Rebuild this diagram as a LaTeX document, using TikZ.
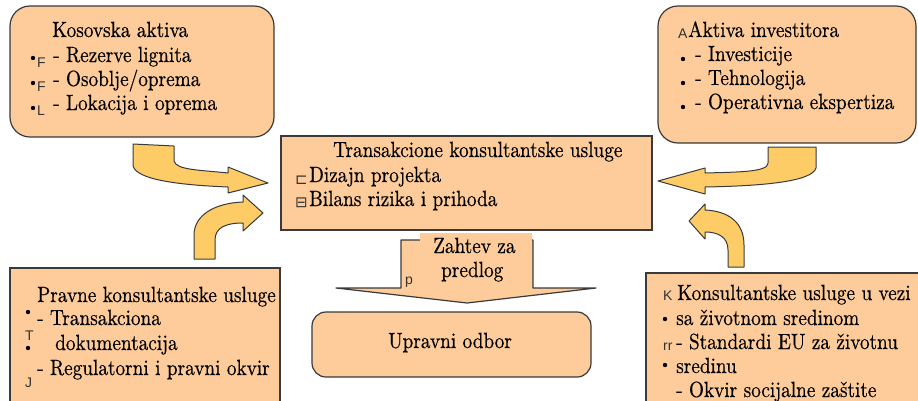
\documentclass[tikz,border=0pt]{standalone}
\usepackage{fontspec}
\setmainfont{lmroman10-regular.otf}[FakeStretch=0.875,FakeBold=0.4]
\setsansfont{Liberation Sans}
\newfontfamily\symfont{DejaVu Sans}
\definecolor{peach}{RGB}{253,204,154}
\definecolor{arrowfill}{RGB}{254,204,102}
\definecolor{boxline}{RGB}{58,58,58}
\tikzset{
  box/.style={draw=boxline,fill=peach,line width=1.2pt},
  bigarrow/.style={draw=boxline,fill=arrowfill,line width=1pt,line join=round},
  txt/.style={anchor=base west,inner sep=0pt,font=\fontsize{22}{24}\selectfont},
  glyph/.style={anchor=base west,inner sep=0pt,text=black!80,font=\fontsize{14}{14}\sffamily},
  dot/.style={fill=black}
}
\begin{document}
\begin{tikzpicture}[x=1pt,y=-1pt]
\useasboundingbox (0,0) rectangle (918,400);
\clip (0,0) rectangle (918,400);

% boxes
\draw[box,rounded corners=20pt] (10,6) rectangle (274,137);
\draw[box,rounded corners=20pt] (658,6) rectangle (916,143);
\draw[box] (281,136) rectangle (652,230);
\draw[box] (10,268) rectangle (280,412);
\draw[box] (646,273) rectangle (925,412);

% down arrow and board
\draw[box,line join=round] (401,240) -- (533,240) -- (533,288) -- (596,288)
  -- (467,303) -- (336,288) -- (401,288) -- cycle;
\fill[peach] (420,233) rectangle (532,287);
\draw[box,rounded corners=14pt] (312,312) rectangle (591,377);

% curved arrows
\draw[bigarrow] (133,144) -- (174,146) -- (174,161)
  .. controls (176,170) and (200,170) .. (228,173) -- (228,167) -- (268,183)
  -- (228,193) -- (228,187) .. controls (180,185) and (137,180) .. (133,166) -- cycle;
\draw[bigarrow] (194,259) -- (194,235) .. controls (194,215) and (215,203) .. (243,202)
  -- (243,195) -- (263,213) -- (243,231) -- (243,223)
  .. controls (225,223) and (215,228) .. (215,240) -- (215,259) -- cycle;
\draw[bigarrow] (768,147) -- (816,147) -- (816,168)
  .. controls (812,182) and (760,186) .. (705,187) -- (705,194) -- (658,181)
  -- (705,168) -- (705,173) .. controls (740,172) and (768,172) .. (768,163) -- cycle;
\draw[bigarrow] (744,267) -- (744,245) .. controls (744,222) and (728,211) .. (705,210)
  -- (705,204) -- (689,221) -- (705,239) -- (705,232)
  .. controls (718,232) and (728,237) .. (728,250) -- (728,267) -- cycle;

% Kosovska aktiva
\node[txt] (kosTitle) at (52,37) {Kosovska aktiva};
\node[txt] (kosA) at (53,62) {- Rezerve lignita};
\node[txt] (kosB) at (53,86) {- Osoblje/oprema};
\node[txt] (kosC) at (53,110) {- Lokacija i oprema};
\fill[dot] (33,58) circle [radius=2.2];
\fill[dot] (33,83) circle [radius=2.2];
\fill[dot] (33,108) circle [radius=2.2];
\node[glyph] (kosF1) at (37,67) {F};
\node[glyph] (kosF2) at (37,91) {F};
\node[glyph] (kosL) at (37,115) {L};

% Aktiva investitora
\node[glyph] (invA) at (678,38) {A};
\node[txt] (invTitle) at (688,37) {Aktiva investitora};
\node[txt] (invA) at (695,61) {- Investicije};
\node[txt] (invB) at (695,85) {- Tehnologija};
\node[txt] (invC) at (695,109) {- Operativna ekspertiza};
\fill[dot] (683,59) circle [radius=2.2];
\fill[dot] (683,83) circle [radius=2.2];
\fill[dot] (683,107) circle [radius=2.2];

% Transakcione konsultantske usluge
\node[txt] (trTitle) at (333,157) {Transakcione konsultantske usluge};
\node[txt] (trA) at (309,182) {Dizajn projekta};
\node[txt] (trB) at (309,206) {Bilans rizika i prihoda};
\node[glyph,font=\fontsize{15}{15}\symfont] (trAsym) at (295,184) {⊏};
\node[glyph,font=\fontsize{15}{15}\symfont] (trBsym) at (295,207) {⊟};

% Zahtev za predlog / Upravni odbor
\node[txt] (reqA) at (433,253) {Zahtev za};
\node[txt] (reqB) at (441,277) {predlog};
\node[glyph] (reqP) at (405,284) {p};
\node[txt] (board) at (388,348) {Upravni odbor};

% Pravne konsultantske usluge
\node[txt] (legTitle) at (37,302) {Pravne konsultantske usluge};
\node[txt] (legA) at (37,325) {- Transakciona};
\node[txt] (legB) at (55,350) {dokumentacija};
\node[txt] (legC) at (37,375) {- Regulatorni i pravni okvir};
\fill[dot] (28,312) circle [radius=2.2];
\fill[dot] (28,348) circle [radius=2.2];
\node[glyph] (legT) at (25,340) {T};
\node[glyph] (legJ) at (25,387) {J};

% Konsultantske usluge u vezi sa zivotnom sredinom
\node[glyph] (envK) at (663,300) {K};
\node[txt] (envTitle) at (677,300) {Konsultantske usluge u vezi};
\node[txt] (envA) at (676,325) {sa životnom sredinom};
\node[txt] (envB) at (676,349) {- Standardi EU za životnu};
\node[txt] (envC) at (676,373) {sredinu};
\node[txt] (envD) at (676,397) {- Okvir socijalne zaštite};
\fill[dot] (665,319) circle [radius=2.2];
\fill[dot] (665,365) circle [radius=2.2];
\node[glyph] (envR) at (663,350) {rr};
\end{tikzpicture}
\end{document}
